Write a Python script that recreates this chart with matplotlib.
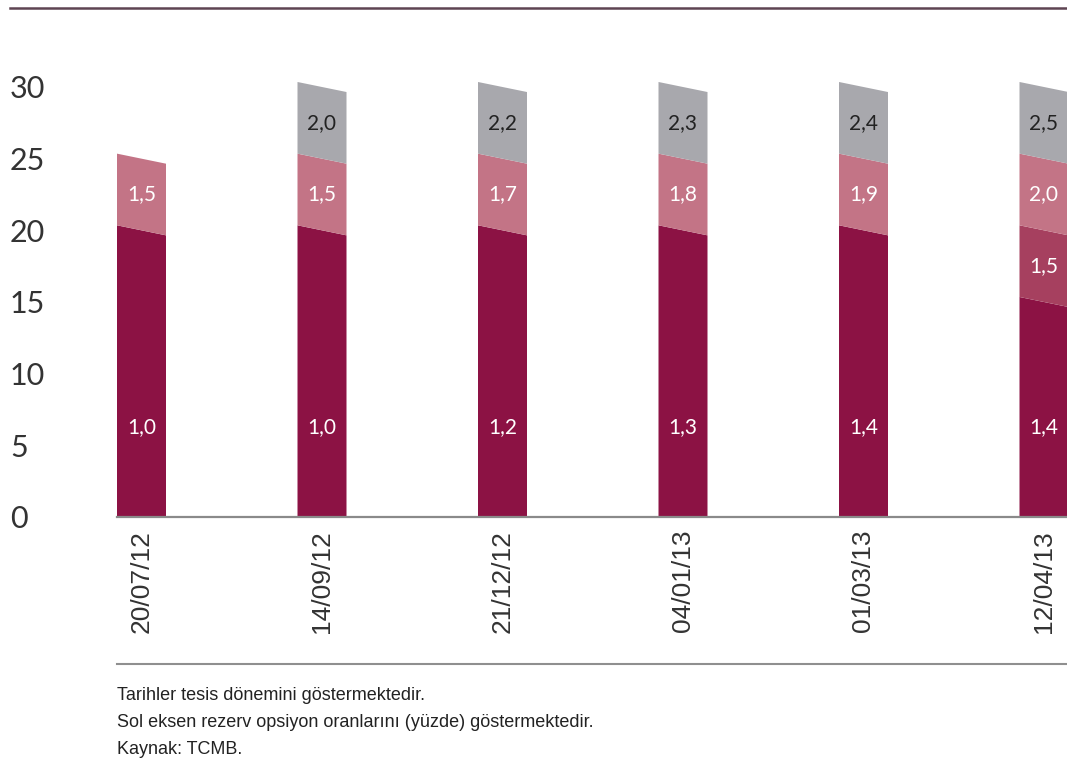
import matplotlib
matplotlib.use("Agg")
import matplotlib.pyplot as plt
from matplotlib.patches import Polygon
from matplotlib.lines import Line2D

# Reserve option mechanism: tranche boundaries (% of reserves) and coefficients
dates = ["20/07/12", "14/09/12", "21/12/12", "04/01/13", "01/03/13", "12/04/13"]
tranche_edges = [
    [0, 20, 25],
    [0, 20, 25, 30],
    [0, 20, 25, 30],
    [0, 20, 25, 30],
    [0, 20, 25, 30],
    [0, 15, 20, 25, 30],
]
coefficients = [
    [1.0, 1.5],
    [1.0, 1.5, 2.0],
    [1.2, 1.7, 2.2],
    [1.3, 1.8, 2.3],
    [1.4, 1.9, 2.4],
    [1.4, 1.5, 2.0, 2.5],
]
y_ticks = [0, 5, 10, 15, 20, 25, 30]
notes = [
    "Tarihler tesis dönemini göstermektedir.",
    "Sol eksen rezerv opsiyon oranlarını (yüzde) göstermektedir.",
    "Kaynak: TCMB.",
]

# colour of a tranche, keyed by its lower boundary
tranche_colors = {0: "#8c1244", 15: "#a6405f", 20: "#c37486", 25: "#a8a8ad"}
label_colors = {0: "white", 15: "white", 20: "white", 25: "#222222"}

W, H, DPI = 1067, 773, 100
fig = plt.figure(figsize=(W / DPI, H / DPI), dpi=DPI)
fig.patch.set_facecolor("white")

px_per_unit = (517 - 87) / 30.0
ymax = 33.0
ax_left, ax_right = 117 / W, 1.0
ax_bottom = (H - 517) / H
ax_height = ymax * px_per_unit / H
ax = fig.add_axes([ax_left, ax_bottom, ax_right - ax_left, ax_height])

spacing_px = 180.5
bar_w = 49 / spacing_px
x0 = -bar_w / 2
x1 = x0 + (W - 117) / spacing_px
ax.set_xlim(x0, x1)
ax.set_ylim(0, ymax)

slant = 0.35  # half of the drop across each bar's slanted edge

num_font = "Lato"
text_font = ["Liberation Sans", "DejaVu Sans"]

for i, (edges, coefs) in enumerate(zip(tranche_edges, coefficients)):
    xl, xr = i - bar_w / 2, i + bar_w / 2
    for lo, hi, c in zip(edges[:-1], edges[1:], coefs):
        lo_l = lo + slant if lo > 0 else 0
        lo_r = lo - slant if lo > 0 else 0
        poly = Polygon(
            [(xl, lo_l), (xr, lo_r), (xr, hi - slant), (xl, hi + slant)],
            closed=True, facecolor=tranche_colors[lo], edgecolor="none",
            clip_on=False,
        )
        ax.add_patch(poly)
        ly = (lo + hi) / 2 if lo > 0 else 6.3
        ax.text(i, ly, f"{c:.1f}".replace(".", ","), ha="center", va="center",
                fontsize=15, color=label_colors[lo], family=num_font)

# axes styling
for side in ("top", "right", "left"):
    ax.spines[side].set_visible(False)
ax.spines["bottom"].set_color("#8a8a8a")
ax.spines["bottom"].set_linewidth(1.6)

ax.set_yticks(y_ticks)
ax.set_yticklabels([str(v) for v in y_ticks], fontsize=22, color="#333333",
                   family=num_font, ha="left")
ax.tick_params(axis="y", length=0, pad=(117 - 10) * 72 / DPI)

ax.set_xticks(range(len(dates)))
ax.set_xticklabels(dates, rotation=90, fontsize=19, color="#333333",
                   family=text_font)
ax.tick_params(axis="x", length=0, pad=13 * 72 / DPI)

# decorative rules
fig.add_artist(Line2D([10 / W, 1.0], [1 - 8 / H, 1 - 8 / H], color="#5e4452",
                      linewidth=1.8))
fig.add_artist(Line2D([117 / W, 1.0], [1 - 664 / H, 1 - 664 / H],
                      color="#8f8f8f", linewidth=1.5))

# footnotes
for k, line in enumerate(notes):
    fig.text(117 / W, 1 - (700 + 27 * k) / H, line, ha="left", va="baseline",
             fontsize=13, color="#222222", family=text_font)

fig.savefig("out.png", dpi=DPI, facecolor="white")
